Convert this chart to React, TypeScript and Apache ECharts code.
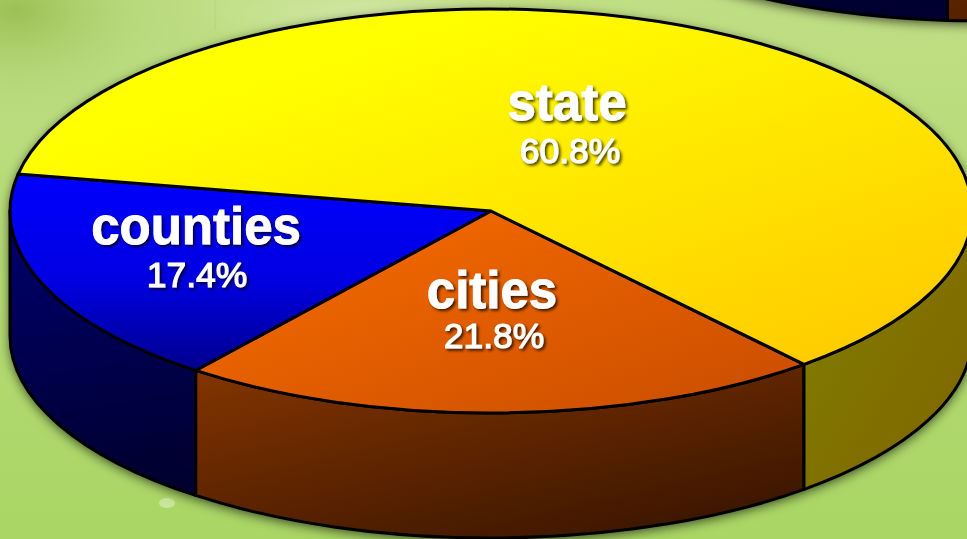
import React, { useEffect, useRef } from "react";
import * as echarts from "echarts";

// ---- data ----
const categories = ["cities", "counties", "state"];
const mainValues = [21.8, 17.4, 60.8];
const backPieValues = [20, 30, 50];

// ---- layout & styling ----
const W = 967;
const H = 539;
const RX = 481;
const RY = 202;
const DEPTH = 125;
const MAIN = { cx: 491, cy: 211, start: 49.4 };
const BACK = { cx: 985, cy: -306, start: 22.5 };
const labelAnchors = [
  { x: 492, y: 290, px: 494, py: 336 },
  { x: 196, y: 226, px: 197, py: 275 },
  { x: 567, y: 102, px: 570, py: 151 },
];

const lg = (x: number, y: number, x2: number, y2: number, a: string, b: string) =>
  new echarts.graphic.LinearGradient(x, y, x2, y2, [
    { offset: 0, color: a },
    { offset: 1, color: b },
  ]);

const topFills = () => [
  lg(0, 0.1, 1, 1, "#f86c00", "#c84c00"),
  new echarts.graphic.LinearGradient(0, 0, 0, 1, [
    { offset: 0, color: "#0000ff" },
    { offset: 0.55, color: "#0000e0" },
    { offset: 1, color: "#00008c" },
  ]),
  lg(0.25, 0.2, 0.95, 1, "#ffff00", "#ffc800"),
];
const wallFills = () => [
  lg(0, 0, 0.8, 1, "#843500", "#3a1500"),
  lg(0, 0, 0.1, 1, "#000070", "#000030"),
  lg(0, 0, 1, 1, "#808000", "#806400"),
];

const rad = (d: number) => (d * Math.PI) / 180;
const px = (c: any, t: number) => c.cx + RX * Math.cos(rad(t));
const py = (c: any, t: number) => c.cy + RY * Math.sin(rad(t));

function sliceAngles(values: number[], start: number) {
  const total = values.reduce((a, b) => a + b, 0);
  let a = start;
  return values.map((v) => {
    const from = a;
    a += (v / total) * 360;
    return [from, a];
  });
}

function topPath(c: any, a: number, b: number) {
  const large = b - a > 180 ? 1 : 0;
  return `M${c.cx} ${c.cy}L${px(c, a)} ${py(c, a)}A${RX} ${RY} 0 ${large} 1 ${px(c, b)} ${py(c, b)}Z`;
}

function wallPath(c: any, a: number, b: number) {
  return (
    `M${px(c, a)} ${py(c, a)}A${RX} ${RY} 0 0 1 ${px(c, b)} ${py(c, b)}` +
    `L${px(c, b)} ${py(c, b) + DEPTH}A${RX} ${RY} 0 0 0 ${px(c, a)} ${py(c, a) + DEPTH}Z`
  );
}

function silhouette(c: any) {
  return (
    `M${c.cx - RX} ${c.cy}A${RX} ${RY} 0 0 1 ${c.cx + RX} ${c.cy}` +
    `L${c.cx + RX} ${c.cy + DEPTH}A${RX} ${RY} 0 0 1 ${c.cx - RX} ${c.cy + DEPTH}Z`
  );
}

// Visible (front) part of a slice's rim: the slice range clipped to 0..180 degrees (mod 360).
function frontRange(a: number, b: number) {
  for (const k of [0, 360]) {
    const lo = Math.max(a, k);
    const hi = Math.min(b, k + 180);
    if (hi > lo) return [lo, hi];
  }
  return null;
}

const INK = { stroke: "#000", lineWidth: 3, lineJoin: "round" };

function shadowSeries(c: any, z: number) {
  return {
    type: "custom",
    coordinateSystem: "none",
    silent: true,
    z,
    data: [1],
    renderItem: () => ({
      type: "path",
      shape: { pathData: silhouette(c) },
      style: {
        fill: "#333",
        shadowBlur: 12,
        shadowColor: "rgba(0,0,0,0.7)",
        shadowOffsetX: 0,
        shadowOffsetY: 3,
      },
    }),
  };
}

function pieSeries(c: any, values: number[], z: number) {
  const angles = sliceAngles(values, c.start);
  const tops = topFills();
  const walls = wallFills();
  return {
    type: "custom",
    coordinateSystem: "none",
    silent: true,
    z,
    data: values,
    renderItem: (params: any) => {
      const i = params.dataIndex;
      const [a, b] = angles[i];
      const children: any[] = [];
      const fr = frontRange(a, b);
      if (fr) {
        children.push({
          type: "path",
          shape: { pathData: wallPath(c, fr[0], fr[1]) },
          style: { fill: walls[i], ...INK },
        });
      }
      children.push({
        type: "path",
        shape: { pathData: topPath(c, a, b) },
        style: { fill: tops[i], ...INK },
      });
      return { type: "group", children };
    },
  };
}

function labelSeries(z: number) {
  const textBase = {
    fill: "#fff",
    stroke: "#fff",
    align: "center",
    verticalAlign: "middle",
    textShadowColor: "rgba(0,0,0,0.75)",
    textShadowBlur: 3,
    textShadowOffsetX: 2,
    textShadowOffsetY: 2,
  };
  return {
    type: "custom",
    coordinateSystem: "none",
    silent: true,
    z,
    data: mainValues,
    renderItem: (params: any) => {
      const i = params.dataIndex;
      const p = labelAnchors[i];
      return {
        type: "group",
        children: [
          {
            type: "text",
            x: p.x,
            y: p.y,
            style: {
              ...textBase,
              text: categories[i],
              font: 'bold 51px "Liberation Sans", Arial, sans-serif',
              lineWidth: 0.8,
            },
          },
          {
            type: "text",
            x: p.px,
            y: p.py,
            style: {
              ...textBase,
              text: `${mainValues[i].toFixed(1)}%`,
              font: '35.5px "Liberation Sans", Arial, sans-serif',
              lineWidth: 1.1,
            },
          },
        ],
      };
    },
  };
}

function backgroundGraphics() {
  return [
    {
      type: "rect",
      shape: { x: 0, y: 0, width: W, height: H },
      silent: true,
      z: -10,
      style: { fill: lg(0, 0, 0, 1, "#c0de84", "#a9d664") },
    },
    {
      type: "rect",
      shape: { x: 0, y: 0, width: 320, height: 200 },
      silent: true,
      z: -8,
      style: {
        fill: new echarts.graphic.RadialGradient(0.05, 0.05, 0.7, [
          { offset: 0, color: "rgba(155,190,80,0.95)" },
          { offset: 0.5, color: "rgba(175,210,115,0.5)" },
          { offset: 1, color: "rgba(190,220,135,0)" },
        ]),
      },
    },
    {
      type: "rect",
      shape: { x: 200, y: 0, width: 300, height: 60 },
      silent: true,
      z: -8,
      style: {
        fill: new echarts.graphic.RadialGradient(0.55, 0.2, 0.6, [
          { offset: 0, color: "rgba(212,232,170,0.8)" },
          { offset: 1, color: "rgba(212,232,170,0)" },
        ]),
      },
    },
    {
      type: "ellipse",
      shape: { cx: 167, cy: 503, rx: 8, ry: 5 },
      silent: true,
      z: -7,
      style: { fill: "rgba(205,232,165,0.85)" },
    },
    {
      type: "line",
      shape: { x1: 215, y1: 0, x2: 215, y2: 30 },
      silent: true,
      z: -7,
      style: { stroke: "rgba(160,195,95,0.4)", lineWidth: 1 },
    },
  ];
}

export default function App() {
  const ref = useRef<HTMLDivElement>(null);
  useEffect(() => {
    document.body.style.margin = "0";
    const chart = echarts.init(ref.current!, undefined, { renderer: "svg" });
    chart.setOption({
      animation: false,
      graphic: { elements: backgroundGraphics() },
      series: [
        shadowSeries(BACK, 2),
        pieSeries(BACK, backPieValues, 3),
        shadowSeries(MAIN, 4),
        pieSeries(MAIN, mainValues, 5),
        labelSeries(6),
      ],
    });
    return () => chart.dispose();
  }, []);
  return <div ref={ref} style={{ position: "fixed", left: 0, top: 0, width: W, height: H }} />;
}
